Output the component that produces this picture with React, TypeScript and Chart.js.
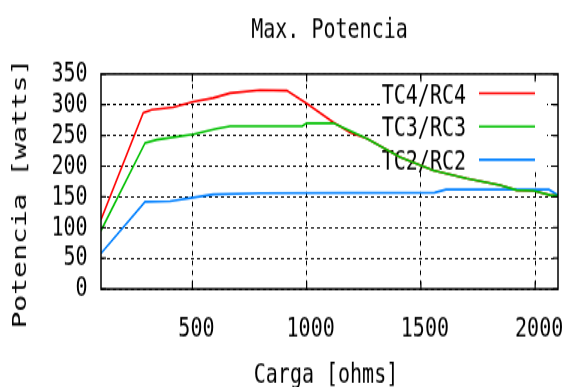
import React, { useEffect, useRef } from 'react';
import { Chart, registerables } from 'chart.js';

Chart.register(...registerables);

// ---- data ----
const TITLE = 'Max. Potencia';
const X_TITLE = 'Carga [ohms]';
const Y_TITLE = 'Potencia [watts]';
const SERIES_LABELS = ['TC4/RC4', 'TC3/RC3', 'TC2/RC2'];
const SERIES_COLORS = ['#ff0000', '#00c000', '#0080ff'];
const X_TICKS = [500, 1000, 1500, 2000];
const X_MIN = 100;
const X_MAX = 2100;
const Y_MIN = 0;
const Y_MAX = 350;
const Y_STEP = 50;

const rc4Load = [100, 285, 322, 416, 504, 591, 665, 796, 913, 1000, 1115, 1190, 1263, 1408, 1554, 1700, 1846, 1919, 1992, 2065, 2100];
const rc4Power = [113, 287, 292, 296, 305, 311, 319, 324, 323, 302, 272, 255, 245, 215, 193, 180, 169, 161, 160, 153, 152];

const rc3Load = [100, 293, 344, 504, 606, 665, 980, 1000, 1117, 1263, 1408, 1554, 1700, 1846, 1919, 1992, 2065, 2100];
const rc3Power = [95, 238, 243, 252, 261, 265, 265, 270, 270, 245, 215, 193, 180, 169, 161, 160, 153, 152];

const rc2Load = [100, 293, 402, 504, 591, 796, 1560, 1610, 2060, 2100];
const rc2Power = [58, 142, 143, 149, 154, 156, 157, 162, 162, 153];

const FONT_FAMILY = '"DejaVu Sans Mono", monospace';
const FONT_SIZE = 20;

const toPoints = (xs: number[], ys: number[]) => xs.map((x, i) => ({ x, y: ys[i] }));

const decor = {
  id: 'decor',
  beforeDatasetsDraw(chart: any) {
    const ctx = chart.ctx as CanvasRenderingContext2D;
    const a = chart.chartArea;
    ctx.save();
    // opaque key box (hides grid only)
    const boxL = 382;
    const boxR = a.right - 11;
    const boxT = a.top + 4;
    const boxB = a.top + 69;
    ctx.fillStyle = '#ffffff';
    ctx.fillRect(boxL, boxT, boxR - boxL, boxB - boxT);
    ctx.font = `${FONT_SIZE}px ${FONT_FAMILY}`;
    ctx.textAlign = 'right';
    ctx.textBaseline = 'middle';
    SERIES_LABELS.forEach((lab, i) => {
      const y = a.top + 14.2 + i * 23.7;
      ctx.fillStyle = '#000';
      ctx.fillText(lab, 466, y + 1.4);
      ctx.strokeStyle = SERIES_COLORS[i];
      ctx.lineWidth = 1.6;
      ctx.beginPath();
      ctx.moveTo(479, y - 0.5);
      ctx.lineTo(535, y - 0.5);
      ctx.stroke();
    });
    ctx.restore();
  },
  afterDraw(chart: any) {
    const ctx = chart.ctx as CanvasRenderingContext2D;
    const a = chart.chartArea;
    const xs = chart.scales.x;
    const ys = chart.scales.y;
    ctx.save();
    ctx.strokeStyle = '#000';
    ctx.lineWidth = 1.5;
    ctx.strokeRect(a.left, a.top, a.right - a.left, a.bottom - a.top);
    ctx.lineWidth = 1.2;
    ctx.beginPath();
    for (let v = Y_MIN; v <= Y_MAX; v += Y_STEP) {
      const y = ys.getPixelForValue(v);
      ctx.moveTo(a.left, y);
      ctx.lineTo(a.left + 5, y);
      ctx.moveTo(a.right - 5, y);
      ctx.lineTo(a.right, y);
    }
    X_TICKS.forEach((v) => {
      const x = xs.getPixelForValue(v);
      ctx.moveTo(x, a.bottom);
      ctx.lineTo(x, a.bottom - 5.5);
      ctx.moveTo(x, a.top);
      ctx.lineTo(x, a.top + 5.5);
    });
    ctx.stroke();

    ctx.fillStyle = '#000';
    ctx.font = `${FONT_SIZE}px ${FONT_FAMILY}`;
    ctx.textAlign = 'center';
    ctx.textBaseline = 'alphabetic';
    ctx.fillText(X_TITLE, (a.left + a.right) / 2 - 3.5, 272.5);
    ctx.translate(26, (a.top + a.bottom) / 2 + 8.5);
    ctx.rotate(-Math.PI / 2);
    ctx.fillText(Y_TITLE, 0, 0);
    ctx.restore();
  },
};

export default function App() {
  const ref = useRef<HTMLCanvasElement | null>(null);

  useEffect(() => {
    if (!ref.current) return;
    const chart = new Chart(ref.current, {
      type: 'line',
      data: {
        datasets: [
          {
            label: SERIES_LABELS[0],
            data: toPoints(rc4Load, rc4Power),
            borderColor: SERIES_COLORS[0],
            borderWidth: 1.6,
            pointRadius: 0,
            tension: 0,
            order: 2,
          },
          {
            label: SERIES_LABELS[1],
            data: toPoints(rc3Load, rc3Power),
            borderColor: SERIES_COLORS[1],
            borderWidth: 1.6,
            pointRadius: 0,
            tension: 0,
            order: 0,
          },
          {
            label: SERIES_LABELS[2],
            data: toPoints(rc2Load, rc2Power),
            borderColor: SERIES_COLORS[2],
            borderWidth: 1.6,
            pointRadius: 0,
            tension: 0,
            order: 1,
          },
        ],
      },
      options: {
        animation: false,
        responsive: false,
        devicePixelRatio: 1,
        layout: { padding: { left: 0, right: 7, top: 0, bottom: 0 } },
        plugins: {
          legend: { display: false },
          tooltip: { enabled: false },
          title: {
            display: true,
            text: TITLE,
            fullSize: false,
            color: '#000',
            font: { family: FONT_FAMILY, size: FONT_SIZE, weight: 'normal' },
            padding: { top: 9.7, bottom: 19.1 },
          },
        },
        scales: {
          x: {
            type: 'linear',
            min: X_MIN,
            max: X_MAX,
            afterBuildTicks: (s: any) => {
              s.ticks = X_TICKS.map((v) => ({ value: v }));
            },
            afterFit: (s: any) => {
              s.height = 69.9;
              s.paddingLeft = 0;
              s.paddingRight = 0;
            },
            grid: { color: '#000', lineWidth: 1, drawTicks: false },
            border: { display: false, dash: [3.5, 3.5] },
            ticks: {
              color: '#000',
              padding: 17,
              labelOffset: 4,
              maxRotation: 0,
              autoSkip: false,
              callback: (v: any) => String(v),
              font: { family: FONT_FAMILY, size: FONT_SIZE },
            },
          },
          y: {
            type: 'linear',
            min: Y_MIN,
            max: Y_MAX,
            afterFit: (s: any) => {
              s.width = 101;
            },
            grid: { color: '#000', lineWidth: 1, drawTicks: false },
            border: { display: false, dash: [3, 3] },
            ticks: {
              color: '#000',
              stepSize: Y_STEP,
              padding: 13.5,
              autoSkip: false,
              callback: (v: any) => String(v),
              font: { family: FONT_FAMILY, size: FONT_SIZE },
            },
          },
        },
      },
      plugins: [decor],
    } as any);
    return () => chart.destroy();
  }, []);

  return (
    <div style={{ position: 'absolute', left: 0, top: 0, width: 565, height: 387 }}>
      <canvas
        ref={ref}
        width={565}
        height={276}
        style={{ display: 'block', width: '565px', height: '387px' }}
      />
    </div>
  );
}
